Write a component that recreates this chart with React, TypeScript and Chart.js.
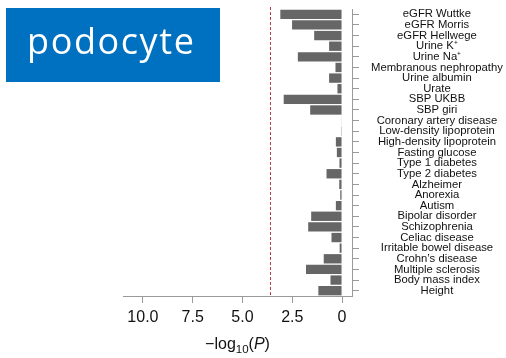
import React, { useEffect, useRef } from 'react';
import { Chart, registerables } from 'chart.js';

Chart.register(...registerables);

const categories = [
  'eGFR Wuttke',
  'eGFR Morris',
  'eGFR Hellwege',
  'Urine K⁺',
  'Urine Na⁺',
  'Membranous nephropathy',
  'Urine albumin',
  'Urate',
  'SBP UKBB',
  'SBP giri',
  'Coronary artery disease',
  'Low-density lipoprotein',
  'High-density lipoprotein',
  'Fasting glucose',
  'Type 1 diabetes',
  'Type 2 diabetes',
  'Alzheimer',
  'Anorexia',
  'Autism',
  'Bipolar disorder',
  'Schizophrenia',
  'Celiac disease',
  'Irritable bowel disease',
  'Crohn’s disease',
  'Multiple sclerosis',
  'Body mass index',
  'Height',
];

const negLog10P = [
  3.1, 2.51, 1.4, 0.65, 2.22, 0.33, 0.65, 0.23, 2.93, 1.6, 0.03, 0.01, 0.31, 0.26,
  0.13, 0.78, 0.14, 0.09, 0.31, 1.55, 1.7, 0.53, 0.12, 0.92, 1.81, 0.58, 1.19,
];

const xTickValues = [0, 2.5, 5, 7.5, 10];
const xTickLabels = ['0', '2.5', '5.0', '7.5', '10.0'];
const significanceThreshold = 3.6;
const panelTitle = 'podocyte';
const axisTitleParts = { main: '−log', sub: '10', open: '(', italic: 'P', close: ')' };

const FONT = '"Liberation Sans", Arial, Helvetica, sans-serif';
const AXIS_GRAY = '#9a9a9a';

const thresholdPlugin = {
  id: 'thresholdLine',
  afterDatasetsDraw(chart: any) {
    const { ctx, chartArea, scales } = chart;
    const x = Math.round(scales.x.getPixelForValue(significanceThreshold)) + 0.5;
    ctx.save();
    ctx.strokeStyle = '#b8403f';
    ctx.lineWidth = 1;
    ctx.setLineDash([3, 2]);
    ctx.beginPath();
    ctx.moveTo(x, chartArea.top - 2);
    ctx.lineTo(x, chartArea.bottom);
    ctx.stroke();
    ctx.restore();
  },
};

const axisTitlePlugin = {
  id: 'axisTitle',
  afterDraw(chart: any) {
    const { ctx, chartArea, scales } = chart;
    const cx = (chartArea.left + chartArea.right) / 2;
    const baseY = scales.x.bottom - 9.5;
    const mainFont = `16px ${FONT}`;
    const subFont = `11.5px ${FONT}`;
    const italicFont = `italic 16px ${FONT}`;
    ctx.save();
    ctx.fillStyle = '#111';
    ctx.textBaseline = 'alphabetic';
    ctx.textAlign = 'left';
    const parts = [
      { t: axisTitleParts.main, f: mainFont, dy: 0 },
      { t: axisTitleParts.sub, f: subFont, dy: 4 },
      { t: axisTitleParts.open, f: mainFont, dy: 0 },
      { t: axisTitleParts.italic, f: italicFont, dy: 0 },
      { t: axisTitleParts.close, f: mainFont, dy: 0 },
    ];
    let total = 0;
    const widths = parts.map((p) => {
      ctx.font = p.f;
      const w = ctx.measureText(p.t).width;
      total += w;
      return w;
    });
    let x = cx - total / 2;
    parts.forEach((p, i) => {
      ctx.font = p.f;
      ctx.fillText(p.t, x, baseY + p.dy);
      x += widths[i];
    });
    ctx.restore();
  },
};

const panelLabelPlugin = {
  id: 'panelLabel',
  afterDraw(chart: any) {
    const { ctx } = chart;
    ctx.save();
    ctx.fillStyle = '#0070C0';
    ctx.fillRect(6, 8, 214, 74);
    ctx.fillStyle = '#ffffff';
    ctx.font = `36px "Open Sans", Lato, sans-serif`;
    (ctx as any).letterSpacing = '1.6px';
    ctx.textBaseline = 'alphabetic';
    ctx.textAlign = 'left';
    ctx.fillText(panelTitle, 27, 53.5);
    ctx.restore();
  },
};

export default function App() {
  const canvasRef = useRef<HTMLCanvasElement | null>(null);

  useEffect(() => {
    if (!canvasRef.current) return;
    const chart = new Chart(canvasRef.current, {
      type: 'bar',
      data: {
        labels: categories,
        datasets: [
          {
            data: negLog10P,
            backgroundColor: '#666666',
            borderWidth: 0,
            barPercentage: 0.88,
            categoryPercentage: 1,
          },
        ],
      },
      options: {
        indexAxis: 'y',
        animation: false,
        responsive: true,
        maintainAspectRatio: false,
        layout: { padding: { left: 123, top: 9, right: 0, bottom: 0 } },
        plugins: {
          legend: { display: false },
          tooltip: { enabled: false },
          title: { display: false },
        },
        scales: {
          x: {
            type: 'linear',
            position: 'bottom',
            reverse: true,
            min: -0.5,
            max: 11,
            afterBuildTicks: (scale: any) => {
              scale.ticks = xTickValues.map((v) => ({ value: v }));
            },
            afterFit: (scale: any) => {
              scale.height = 62;
              scale.paddingLeft = 0;
              scale.paddingRight = 0;
            },
            ticks: {
              callback: (value: any) => {
                const i = xTickValues.indexOf(Number(value));
                return i >= 0 ? xTickLabels[i] : '';
              },
              font: { family: FONT, size: 16 },
              color: '#111',
              padding: 5,
              maxRotation: 0,
            },
            grid: {
              display: true,
              drawOnChartArea: false,
              drawTicks: true,
              tickLength: 7,
              color: AXIS_GRAY,
            },
            border: { display: true, color: AXIS_GRAY, width: 1 },
            title: { display: false },
          },
          y: {
            type: 'category',
            position: 'right',
            afterFit: (scale: any) => {
              scale.width = 154;
              scale.paddingTop = 0;
              scale.paddingBottom = 0;
            },
            ticks: {
              autoSkip: false,
              crossAlign: 'center',
              font: { family: FONT, size: 11.3 },
              color: '#111',
              padding: 12,
            },
            grid: {
              display: true,
              offset: false,
              drawOnChartArea: false,
              drawTicks: true,
              tickLength: 7,
              color: AXIS_GRAY,
            },
            border: { display: true, color: AXIS_GRAY, width: 1 },
          },
        },
      },
      plugins: [thresholdPlugin, axisTitlePlugin, panelLabelPlugin],
    } as any);
    return () => chart.destroy();
  }, []);

  return (
    <div style={{ position: 'absolute', left: 0, top: 0, width: 506, height: 358 }}>
      <canvas ref={canvasRef} />
    </div>
  );
}
